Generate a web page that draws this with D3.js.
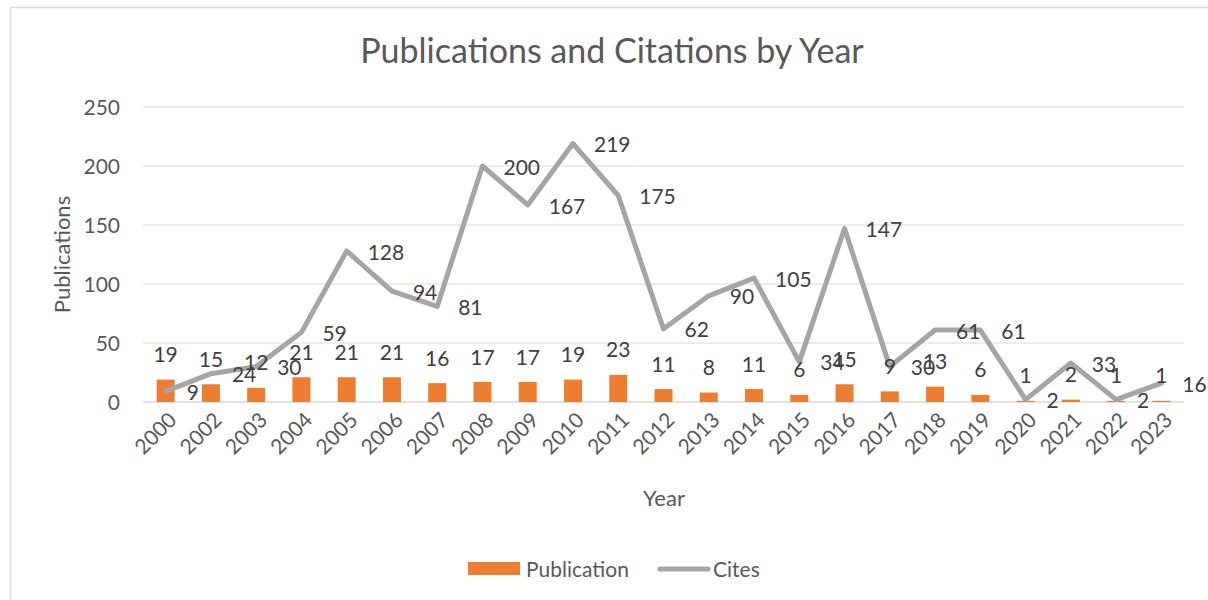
<!DOCTYPE html>
<html lang="en">
  <head>
    <meta charset="UTF-8" />
    <script src="https://cdn.jsdelivr.net/npm/d3@7"></script>
    <style>
      body { margin: 0; background: #fff; }
      text { font-family: Lato, "Open Sans", sans-serif; }
    </style>
  </head>
  <body>
    <div id="fig"></div>
    <script>
      const years = ["2000","2002","2003","2004","2005","2006","2007","2008","2009","2010","2011",
        "2012","2013","2014","2015","2016","2017","2018","2019","2020","2021","2022","2023"];
      const publications = [19,15,12,21,21,21,16,17,17,19,23,11,8,11,6,15,9,13,6,1,2,1,1];
      const cites = [9,24,30,59,128,94,81,200,167,219,175,62,90,105,34,147,30,61,61,2,33,2,16];
      const yTicks = [0,50,100,150,200,250];

      const width = 1208, height = 600;
      const margins = { top: 107, bottom: 198, left: 143, right: 24 };

      const svg = d3.select("#fig").append("svg")
        .attr("width", width).attr("height", height);

      // chart frame (right and bottom edges run off the picture)
      svg.append("rect")
        .attr("x", 10.5).attr("y", 7.5)
        .attr("width", width).attr("height", height)
        .attr("fill", "none").attr("stroke", "#d9d9d9").attr("stroke-width", 1.5);

      const x = d3.scaleBand()
        .domain(years)
        .range([margins.left, width - margins.right]);
      const y = d3.scaleLinear()
        .domain([0, 250])
        .range([height - margins.bottom, margins.top]);

      const grey = "#595959";
      const fs = "21px";

      // gridlines
      svg.append("g").selectAll("line").data(yTicks).join("line")
        .attr("x1", x.range()[0]).attr("x2", x.range()[1])
        .attr("y1", d => y(d)).attr("y2", d => y(d))
        .attr("stroke", "#d9d9d9").attr("stroke-width", d => d === 0 ? 1.5 : 1);

      // y tick labels
      svg.append("g").selectAll("text").data(yTicks).join("text")
        .attr("x", 120).attr("y", d => y(d)).attr("dy", "0.36em")
        .attr("text-anchor", "end").attr("fill", grey).style("font-size", fs)
        .text(d => d);

      // x tick labels
      svg.append("g").selectAll("text").data(years).join("text")
        .attr("transform", d => `translate(${x(d) + x.bandwidth() / 2 + 7},${y(0) + 14}) rotate(-45)`)
        .attr("text-anchor", "end").attr("dy", "0.36em")
        .attr("fill", grey).style("font-size", fs)
        .text(d => d);

      // bars
      const barW = 18;
      svg.append("g").selectAll("rect").data(publications).join("rect")
        .attr("x", (d, i) => x(years[i]) + x.bandwidth() / 2 - barW / 2)
        .attr("y", d => y(d))
        .attr("width", barW)
        .attr("height", d => y(0) - y(d))
        .attr("fill", "#ed7d31");

      // cites line
      svg.append("path")
        .datum(cites)
        .attr("d", d3.line()
          .x((d, i) => x(years[i]) + x.bandwidth() / 2)
          .y(d => y(d)))
        .attr("fill", "none").attr("stroke", "#a5a5a5")
        .attr("stroke-width", 5).attr("stroke-linejoin", "round").attr("stroke-linecap", "round");

      // data labels
      const labelColor = "#404040";
      svg.append("g").selectAll("text").data(publications).join("text")
        .attr("x", (d, i) => x(years[i]) + x.bandwidth() / 2)
        .attr("y", d => y(d) - 25).attr("dy", "0.36em")
        .attr("text-anchor", "middle").attr("fill", labelColor).style("font-size", fs)
        .text(d => d);

      svg.append("g").selectAll("text").data(cites).join("text")
        .attr("x", (d, i) => x(years[i]) + x.bandwidth() / 2 + 21)
        .attr("y", d => y(d) + 1).attr("dy", "0.36em")
        .attr("text-anchor", "start").attr("fill", labelColor).style("font-size", fs)
        .text(d => d);

      // titles
      svg.append("text")
        .attr("x", 612).attr("y", 51).attr("dy", "0.36em")
        .attr("text-anchor", "middle").attr("fill", grey).style("font-size", "34px")
        .text("Publications and Citations by Year");

      svg.append("text")
        .attr("transform", `translate(62,${(y(0) + y(250)) / 2}) rotate(-90)`)
        .attr("dy", "0.36em")
        .attr("text-anchor", "middle").attr("fill", grey).style("font-size", "22px")
        .text("Publications");

      svg.append("text")
        .attr("x", 664).attr("y", 498).attr("dy", "0.36em")
        .attr("text-anchor", "middle").attr("fill", grey).style("font-size", "22px")
        .text("Year");

      // legend
      const legend = svg.append("g");
      legend.append("rect")
        .attr("x", 468).attr("y", 562).attr("width", 52).attr("height", 13)
        .attr("fill", "#ed7d31");
      legend.append("text")
        .attr("x", 526).attr("y", 569).attr("dy", "0.36em")
        .attr("fill", grey).style("font-size", fs)
        .text("Publication");
      legend.append("line")
        .attr("x1", 660).attr("x2", 708).attr("y1", 569).attr("y2", 569)
        .attr("stroke", "#a5a5a5").attr("stroke-width", 5).attr("stroke-linecap", "round");
      legend.append("text")
        .attr("x", 713).attr("y", 569).attr("dy", "0.36em")
        .attr("fill", grey).style("font-size", fs)
        .text("Cites");
    </script>
  </body>
</html>
